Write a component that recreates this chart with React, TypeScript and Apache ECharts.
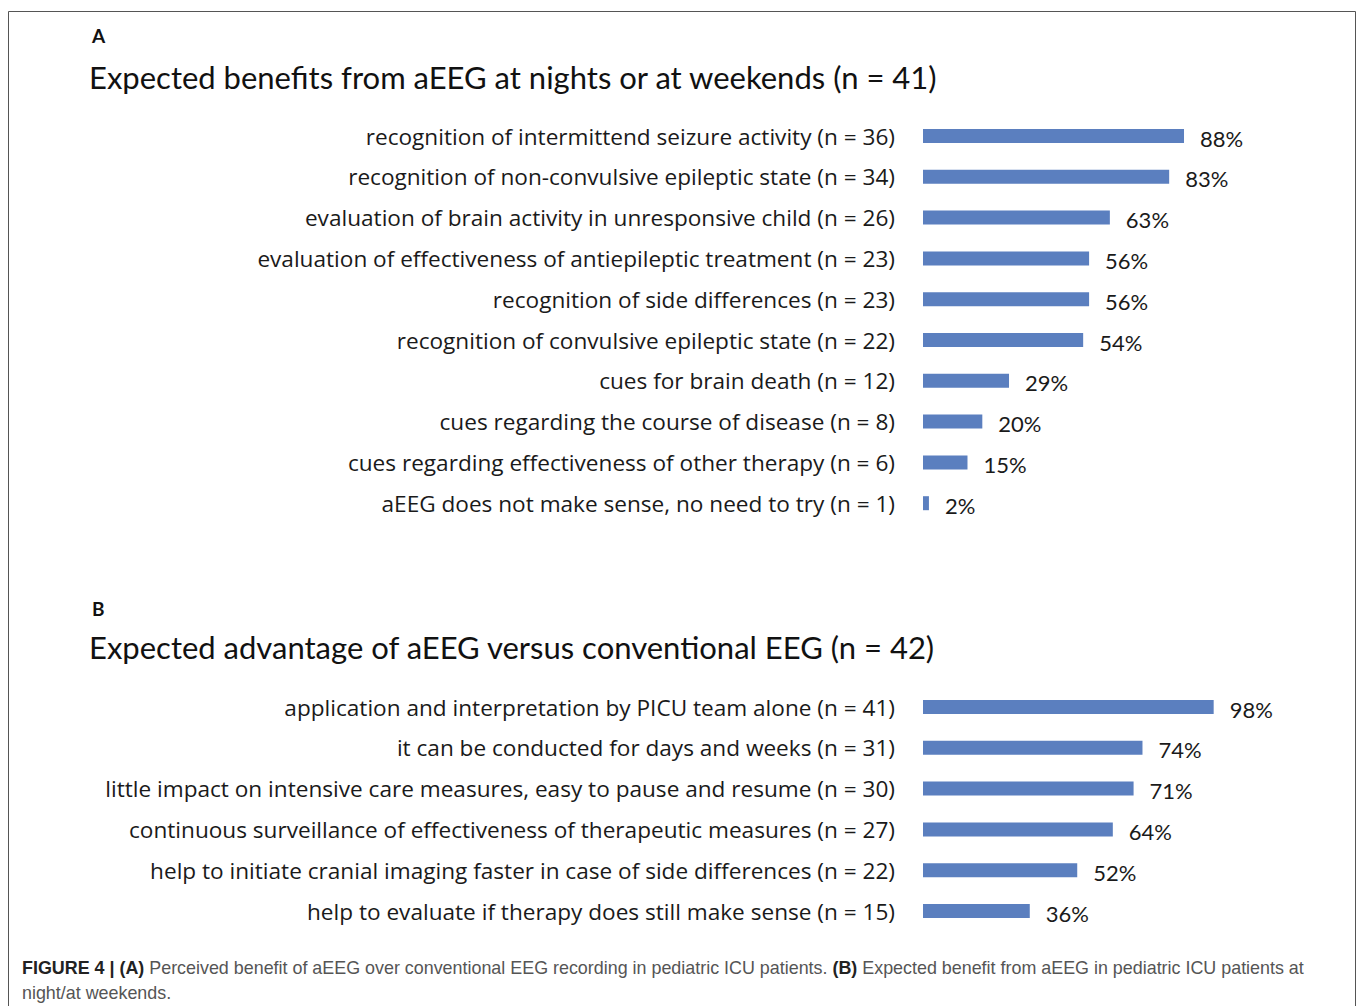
import React, { useEffect, useRef } from "react";
import * as echarts from "echarts";

const catsA = [
  "recognition of intermittend seizure activity (n = 36)",
  "recognition of non-convulsive epileptic state (n = 34)",
  "evaluation of brain activity in unresponsive child (n = 26)",
  "evaluation of effectiveness of antiepileptic treatment (n = 23)",
  "recognition of side differences (n = 23)",
  "recognition of convulsive epileptic state (n = 22)",
  "cues for brain death (n = 12)",
  "cues regarding the course of disease (n = 8)",
  "cues regarding effectiveness of other therapy (n = 6)",
  "aEEG does not make sense, no need to try (n = 1)",
];
const valsA = [88, 83, 63, 56, 56, 54, 29, 20, 15, 2];

const catsB = [
  "application and interpretation by PICU team alone (n = 41)",
  "it can be conducted for days and weeks (n = 31)",
  "little impact on intensive care measures, easy to pause and resume (n = 30)",
  "continuous surveillance of effectiveness of therapeutic measures (n = 27)",
  "help to initiate cranial imaging faster in case of side differences (n = 22)",
  "help to evaluate if therapy does still make sense (n = 15)",
];
const valsB = [98, 74, 71, 64, 52, 36];

const titleA = "Expected benefits from aEEG at nights or at weekends (n = 41)";
const titleB = "Expected advantage of aEEG versus conventional EEG (n = 42)";

const BAR = "#5B7FBF";

export default function App() {
  const ref = useRef<HTMLDivElement>(null);
  useEffect(() => {
    const chart = echarts.init(ref.current!, null, { renderer: "svg" });
    const catAxis = (cats: string[], gi: number) => ({
      type: "category",
      gridIndex: gi,
      data: cats,
      inverse: true,
      axisLine: { show: false },
      axisTick: { show: false },
      axisLabel: { fontFamily: "Open Sans", fontSize: 22.6, color: "#1a1a1a", margin: 28 },
    });
    const valAxis = (gi: number) => ({
      type: "value",
      gridIndex: gi,
      min: 0,
      max: 100,
      show: false,
      splitLine: { show: false },
    });
    const bar = (vals: number[], i: number) => ({
      type: "bar",
      xAxisIndex: i,
      yAxisIndex: i,
      data: vals,
      barWidth: 14,
      itemStyle: { color: BAR },
      label: {
        show: true,
        position: "right",
        distance: 16,
        formatter: "{c}%",
        fontFamily: "Lato",
        fontSize: 22,
        color: "#1a1a1a",
        offset: [0, 2],
      },
    });
    chart.setOption({
      animation: false,
      grid: [
        { left: 923, width: 296.6, top: 115.6, height: 408 },
        { left: 923, width: 296.6, top: 686.6, height: 244.8 },
      ],
      xAxis: [valAxis(0), valAxis(1)],
      yAxis: [catAxis(catsA, 0), catAxis(catsB, 1)],
      series: [bar(valsA, 0), bar(valsB, 1)],
      graphic: [
        {
          type: "rect",
          shape: { x: 8.5, y: 11.5, width: 1347, height: 1010 },
          style: { fill: "none", stroke: "#555", lineWidth: 1 },
          silent: true,
        },
        {
          type: "text",
          x: 92,
          y: 35,
          style: { text: "A", font: "bold 19px Lato", fill: "#111", textVerticalAlign: "middle", verticalAlign: "middle" },
        },
        {
          type: "text",
          x: 92,
          y: 608,
          style: { text: "B", font: "bold 19px Lato", fill: "#111", textVerticalAlign: "middle", verticalAlign: "middle" },
        },
        {
          type: "text",
          x: 89,
          y: 77,
          style: { text: titleA, font: "31px Lato", fill: "#111", textVerticalAlign: "middle", verticalAlign: "middle" },
        },
        {
          type: "text",
          x: 89,
          y: 647,
          style: { text: titleB, font: "31px Lato", fill: "#111", textVerticalAlign: "middle", verticalAlign: "middle" },
        },
        {
          type: "text",
          x: 22,
          y: 968,
          style: {
            text:
              "{b|FIGURE 4 | (A)} Perceived benefit of aEEG over conventional EEG recording in pediatric ICU patients. {b|(B)} Expected benefit from aEEG in pediatric ICU patients at",
            font: "17.9px 'Liberation Sans'",
            fill: "#555",
            textVerticalAlign: "middle",
            verticalAlign: "middle",
            rich: {
              b: { fontWeight: "bold", fill: "#222", color: "#222", fontSize: 17.9, fontFamily: "Liberation Sans" },
            },
          },
        },
        {
          type: "text",
          x: 22,
          y: 993,
          style: {
            text: "night/at weekends.",
            font: "17.9px 'Liberation Sans'",
            fill: "#555",
            textVerticalAlign: "middle",
            verticalAlign: "middle",
          },
        },
      ],
    });
    return () => chart.dispose();
  }, []);
  return (
    <div
      ref={ref}
      style={{ position: "fixed", left: 0, top: 0, width: 1357, height: 1006, background: "#fff" }}
    />
  );
}
